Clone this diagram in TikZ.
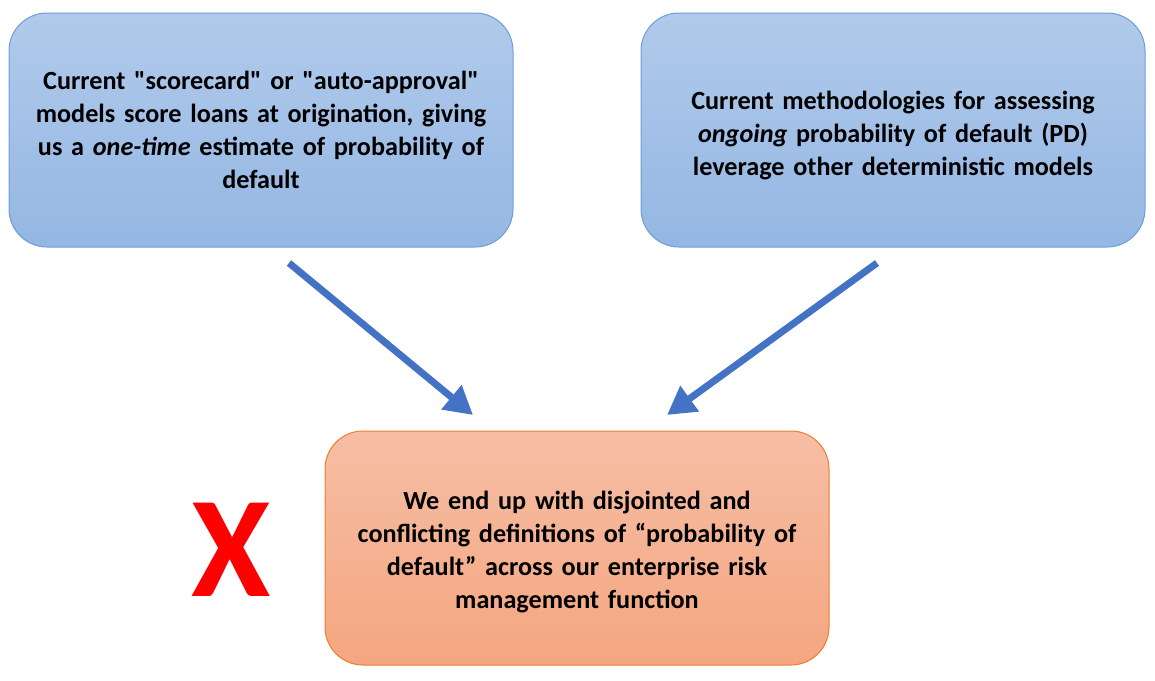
\documentclass[tikz,border=0pt]{standalone}
\usepackage{fontspec}
\setmainfont{Carlito}[Ligatures=TeXOff]
\usetikzlibrary{arrows.meta}
\definecolor{bluetop}{RGB}{177,202,235}
\definecolor{bluebot}{RGB}{148,183,227}
\definecolor{blueline}{RGB}{109,158,214}
\definecolor{orgtop}{RGB}{246,190,165}
\definecolor{orgbot}{RGB}{244,166,128}
\definecolor{orgline}{RGB}{237,125,49}
\definecolor{arrowblue}{RGB}{68,114,196}
\tikzset{
  bluebox/.style={draw=blueline, line width=1pt, rounded corners=38pt, top color=bluetop, bottom color=bluebot,
    minimum width=504pt, minimum height=234pt, align=center, text width=490pt,
    font=\fontsize{26.2}{33}\selectfont\bfseries},
  orgbox/.style={bluebox, draw=orgline, top color=orgtop, bottom color=orgbot},
  topstrut/.style={execute at begin node={\rule{0pt}{#1}}},
  bigarrow/.style={draw=arrowblue, line width=7pt, -{Triangle[length=28pt,width=30pt]}, shorten >=0pt},
}
\begin{document}
\begin{tikzpicture}[x=1pt,y=-1pt]
\useasboundingbox (0,0) rectangle (1155,680);
\node[bluebox] (a) at (261,130) {Current "scorecard" or "auto-approval"\\ models score loans at origination, giving\\ us a \textit{one-time} estimate of probability of\\ default};
\node[bluebox, topstrut=30pt] (b) at (893,130) {Current methodologies for assessing\\ \textit{ongoing} probability of default (PD)\\ leverage other deterministic models};
\node[orgbox, topstrut=26pt] (c) at (577,548) {We end up with disjointed and\\ conflicting definitions of “probability of\\ default” across our enterprise risk\\ management function};
\node[text=red, font=\fontsize{144}{144}\selectfont\bfseries, inner sep=0pt] (x) at (231,550) {X};
\coordinate (a1) at (289,263);
\coordinate (a2) at (473,415);
\coordinate (b1) at (877,263);
\coordinate (b2) at (667,415);
\draw[bigarrow] (a1) -- (a2);
\draw[bigarrow] (b1) -- (b2);
\end{tikzpicture}
\end{document}
